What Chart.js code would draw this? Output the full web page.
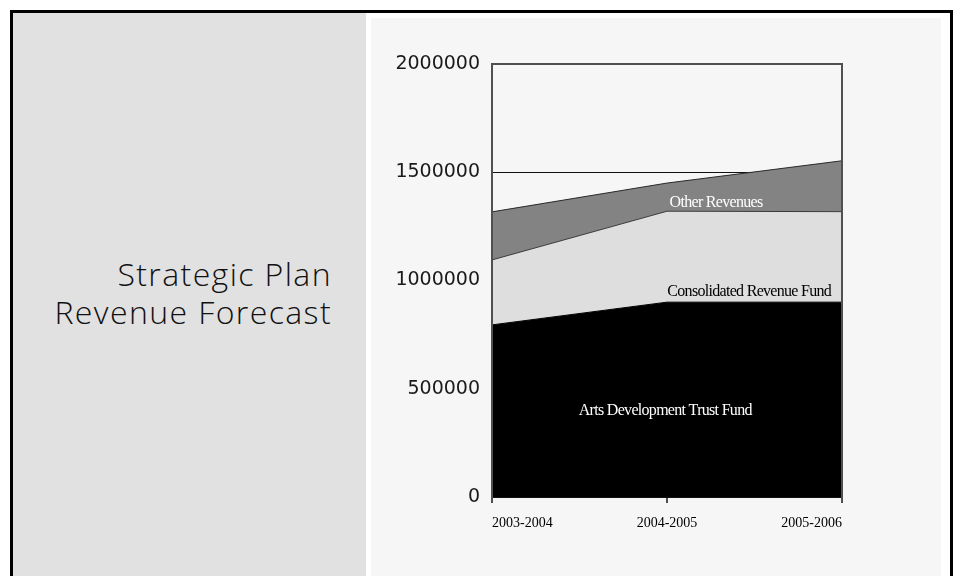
<!DOCTYPE html>
<html lang="en">
<head>
    <meta charset="UTF-8" />
    <title>Strategic Plan Revenue Forecast</title>
    <style>
        html, body {
            margin: 0;
            padding: 0;
            background: #ffffff;
        }
        .frame {
            position: absolute;
            left: 10px;
            top: 10px;
            width: 937px;
            height: 600px;
            border: 3px solid #000;
            border-bottom: none;
            box-sizing: content-box;
        }
        .side {
            position: absolute;
            left: 13px;
            top: 13px;
            width: 353px;
            height: 563px;
            background: #e1e1e1;
        }
        .side-title {
            position: absolute;
            right: 34px;
            top: 242px;
            text-align: right;
            font-family: "Open Sans", sans-serif;
            font-weight: 300;
            font-size: 32px;
            letter-spacing: 1.4px;
            line-height: 38px;
            color: #111111;
        }
        .panel {
            position: absolute;
            left: 371px;
            top: 18px;
            width: 570px;
            height: 558px;
            background: #f6f6f6;
        }
    </style>
</head>
<body>
    <div class="frame"></div>
    <div class="side">
        <div class="side-title">Strategic Plan<br>Revenue Forecast</div>
    </div>
    <div class="panel">
        <canvas id="revenue-chart"></canvas>
    </div>

    <script src="https://cdn.jsdelivr.net/npm/chart.js"></script>
    <script>
        // values
        const years = ['2003-2004', '2004-2005', '2005-2006'];
        const artsTrustFund = [795000, 900000, 900000];
        const consolidatedFund = [300000, 420000, 418000];
        const otherRevenues = [222000, 130000, 235000];
        const yTicks = [0, 500000, 1000000, 1500000, 2000000];

        const serif = '"Liberation Serif", "Times New Roman", serif';

        // axis frame (left / top / right) drawn over the fills
        const framePlugin = {
            id: 'frame',
            afterDatasetsDraw(chart) {
                const { ctx, chartArea: a } = chart;
                ctx.save();
                ctx.strokeStyle = '#505050';
                ctx.lineWidth = 2;
                ctx.beginPath();
                ctx.moveTo(a.left, a.bottom + 6);
                ctx.lineTo(a.left, a.top);
                ctx.lineTo(a.right, a.top);
                ctx.lineTo(a.right, a.bottom + 6);
                ctx.stroke();
                ctx.restore();
            }
        };

        // series names written inside the areas
        const areaLabels = {
            id: 'areaLabels',
            afterDatasetsDraw(chart) {
                const { ctx, scales } = chart;
                const spots = [
                    { ds: 2, x: 1.28, y: 1358000, color: '#ffffff' },
                    { ds: 1, x: 1.47, y: 947000, color: '#000000' },
                    { ds: 0, x: 0.99, y: 397000, color: '#ffffff' }
                ];
                ctx.save();
                ctx.font = '16px ' + serif;
                ctx.letterSpacing = '-0.7px';
                ctx.textAlign = 'center';
                ctx.textBaseline = 'middle';
                spots.forEach(s => {
                    ctx.fillStyle = s.color;
                    ctx.fillText(chart.data.datasets[s.ds].label,
                        scales.x.getPixelForValue(s.x),
                        scales.y.getPixelForValue(s.y));
                });
                ctx.restore();
            }
        };

        const ctx = document.getElementById('revenue-chart').getContext('2d');
        new Chart(ctx, {
            type: 'line',
            data: {
                labels: years,
                datasets: [
                    {
                        label: 'Arts Development Trust Fund',
                        data: artsTrustFund,
                        backgroundColor: '#000000',
                        borderColor: '#000000',
                        borderWidth: 1,
                        fill: 'origin',
                        pointRadius: 0,
                        tension: 0
                    },
                    {
                        label: 'Consolidated Revenue Fund',
                        data: consolidatedFund,
                        backgroundColor: '#dedede',
                        borderColor: '#3a3a3a',
                        borderWidth: 1,
                        fill: '-1',
                        pointRadius: 0,
                        tension: 0
                    },
                    {
                        label: 'Other Revenues',
                        data: otherRevenues,
                        backgroundColor: '#838383',
                        borderColor: '#2a2a2a',
                        borderWidth: 1,
                        fill: '-1',
                        pointRadius: 0,
                        tension: 0
                    }
                ]
            },
            options: {
                responsive: true,
                maintainAspectRatio: false,
                animation: false,
                layout: { padding: { left: 0, top: 46, right: 99, bottom: 0 } },
                plugins: {
                    legend: { display: false },
                    tooltip: { enabled: false }
                },
                scales: {
                    x: {
                        offset: false,
                        afterFit: s => { s.height = 79; },
                        grid: {
                            drawOnChartArea: false,
                            tickLength: 6,
                            color: '#505050',
                            lineWidth: 2
                        },
                        border: { display: false },
                        ticks: {
                            align: 'inner',
                            maxRotation: 0,
                            padding: 12,
                            color: '#000000',
                            font: { family: serif, size: 14 }
                        }
                    },
                    y: {
                        stacked: true,
                        min: 0,
                        max: 2000000,
                        afterFit: s => { s.width = 121; },
                        afterBuildTicks: s => { s.ticks = yTicks.map(v => ({ value: v })); },
                        grid: {
                            color: '#111111',
                            lineWidth: 1,
                            drawTicks: false
                        },
                        border: { display: false },
                        ticks: {
                            padding: 12,
                            color: '#1a1a1a',
                            font: { family: '"DejaVu Sans", sans-serif', size: 19 },
                            callback: v => String(v)
                        }
                    }
                }
            },
            plugins: [framePlugin, areaLabels]
        });
    </script>
</body>
</html>
